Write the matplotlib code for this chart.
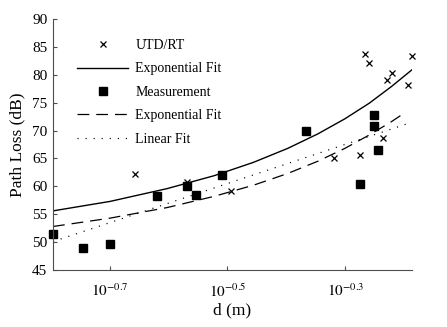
import numpy as np
import matplotlib
matplotlib.use("Agg")
import matplotlib.pyplot as plt

plt.rcParams['font.family'] = ['Liberation Serif', 'DejaVu Serif']
plt.rcParams['mathtext.fontset'] = 'stix'
plt.rcParams['lines.scale_dashes'] = False

# UTD/RT simulation points
utd_d = [0.22, 0.27, 0.32, 0.48, 0.53, 0.54, 0.55, 0.58, 0.59, 0.60, 0.64, 0.65]
utd_pl = [62.3, 60.8, 59.2, 65.1, 65.7, 83.7, 82.1, 68.7, 79.1, 80.3, 78.2, 83.3]

# measured points
meas_d = [0.16, 0.18, 0.20, 0.24, 0.27, 0.28, 0.31, 0.43, 0.53, 0.56, 0.56, 0.57]
meas_pl = [51.5, 49.0, 49.7, 58.3, 60.1, 58.5, 62.0, 70.0, 60.4, 72.8, 70.9, 66.6]

# fit curves
fit_utd_d = [0.16, 0.20, 0.25, 0.30, 0.35, 0.40, 0.45, 0.50, 0.55, 0.60, 0.65]
fit_utd_pl = [55.6, 57.3, 59.6, 61.9, 64.3, 66.8, 69.4, 72.1, 74.9, 77.9, 80.9]
fit_meas_d = [0.16, 0.20, 0.25, 0.30, 0.35, 0.40, 0.45, 0.50, 0.55, 0.60, 0.63]
fit_meas_pl = [52.8, 54.3, 56.2, 58.2, 60.2, 62.3, 64.5, 66.8, 69.2, 71.6, 73.1]
lin_d = [0.16, 0.65]
lin_pl = [50.1, 71.5]

fig = plt.figure(figsize=(4.47, 3.27), dpi=100)
ax = fig.add_axes([53/447, 1 - 270/327, 359/447, 251/327])

ax.plot(utd_d, utd_pl, 'x', color='black', ms=4, mew=0.9, clip_on=False,
        label='UTD/RT')
ax.plot(fit_utd_d, fit_utd_pl, '-', color='black', lw=1.0,
        label='Exponential Fit')
ax.plot(meas_d, meas_pl, 's', color='black', ms=5.5, clip_on=False,
        label='Measurement')
ax.plot(fit_meas_d, fit_meas_pl, color='black', lw=0.9,
        linestyle=(0, (8.5, 5)), label='Exponential Fit')
ax.plot(lin_d, lin_pl, color='black', lw=0.9,
        linestyle=(0, (0.8, 5)), label='Linear Fit')

ax.set_xscale('log')
ax.set_xlim(0.16, 0.65)
ax.set_ylim(45, 90)
ax.set_xticks([10**-0.7, 10**-0.5, 10**-0.3])
ax.set_xticklabels(['$10^{-0.7}$', '$10^{-0.5}$', '$10^{-0.3}$'])
ax.xaxis.set_minor_locator(matplotlib.ticker.NullLocator())
ax.set_yticks(np.arange(45, 91, 5))

for s in ['top', 'right']:
  ax.spines[s].set_visible(False)
for s in ['left', 'bottom']:
  ax.spines[s].set_color('0.3')
  ax.spines[s].set_linewidth(0.8)

ax.tick_params(direction='in', length=3, width=0.8, color='0.3',
               labelsize=11, pad=4)
ax.tick_params(axis='x', pad=9)

ax.set_xlabel('d (m)', fontsize=12.5, labelpad=2)
ax.set_ylabel('Path Loss (dB)', fontsize=12.5, labelpad=5)

ax.legend(loc='upper left', bbox_to_anchor=(0.067, 0.92), frameon=False,
          fontsize=10, handlelength=3.7, handletextpad=0.5,
          labelspacing=0.75, borderpad=0, borderaxespad=0, numpoints=1)

fig.savefig('out.png', dpi=100)
